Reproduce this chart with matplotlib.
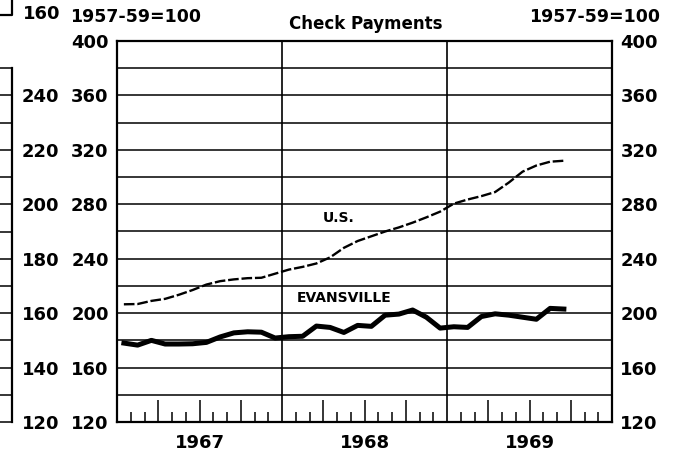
import matplotlib.pyplot as plt
from matplotlib.lines import Line2D

# monthly index, Jan 1967 .. Sep 1969 (1957-59=100)
us = [206.5, 206.7, 209, 210.5, 213.5, 217, 221, 223.5, 224.8, 225.7, 226, 229,
      232, 234, 236.5, 241, 248, 253, 256.5, 260, 263, 266.5, 270.4, 274.6,
      280.5, 283.5, 286, 289, 296, 304, 308.5, 311.3, 312]
evansville = [178, 176.5, 180, 177.3, 177.3, 177.5, 178.5, 182.5, 185.5, 186.3, 186, 181.7,
              182.7, 183, 190.5, 189.5, 185.8, 191, 190.3, 198.5, 199.3, 202.3, 197, 189,
              190, 189.5, 197.5, 199.5, 198.5, 197, 195.5, 203.5, 203]
years = ["1967", "1968", "1969"]
y_labels = [120, 160, 200, 240, 280, 320, 360, 400]
left_labels = [120, 140, 160, 180, 200, 220, 240]

W, H = 682, 455
fig = plt.figure(figsize=(W / 100, H / 100), dpi=100)
plt.rcParams['font.family'] = ['DejaVu Sans']

# main plot area in pixels
x0, x1, y_top, y_bot = 117, 612, 41, 422
ax = fig.add_axes([x0 / W, (H - y_bot) / H, (x1 - x0) / W, (y_bot - y_top) / H])

months = [i + 0.5 for i in range(len(us))]
ax.plot(months, us, color='black', lw=1.7, ls=(0, (4.5, 1.2)))
ax.plot(months, evansville, color='black', lw=3.6, solid_joinstyle='round')

ax.set_xlim(0, 36)
ax.set_ylim(120, 400)

# horizontal grid every 20, labels every 40
ax.set_yticks(y_labels)
ax.set_yticks([v for v in range(140, 400, 40)], minor=True)
ax.grid(True, axis='y', which='both', color='black', lw=1.1)
ax.tick_params(axis='y', which='both', length=0, labelleft=True, labelright=True,
               labelsize=13, pad=6)
for t in ax.get_yticklabels():
    t.set_fontweight('bold')

# year separators
for b in [12, 24]:
    ax.axvline(b, color='black', lw=1.2)

# month ticks: long at quarters, short at other months
quarters = [q for q in range(3, 36, 3) if q % 12 != 0]
short = [m for m in range(1, 36) if m % 3 != 0]
q_labels = []
for q in quarters:
    q_labels.append(years[q // 12] if q % 12 == 6 else "")
ax.set_xticks(quarters, labels=q_labels)
ax.set_xticks(short, minor=True)
ax.tick_params(axis='x', which='major', direction='in', length=16, width=1.1,
               labelsize=13, pad=9)
ax.tick_params(axis='x', which='minor', direction='in', length=7.5, width=1.1)
for t in ax.get_xticklabels():
    t.set_fontweight('bold')

for s in ax.spines.values():
    s.set_linewidth(1.6)

ax.text(16.1, 270, "U.S.", fontsize=10, fontweight='bold', ha='center', va='center')
ax.text(16.5, 210.8, "EVANSVILLE", fontsize=10, fontweight='bold', ha='center', va='center')

# partial neighbouring chart on the left
axl = fig.add_axes([-40 / W, (H - y_bot) / H, 52 / W, (y_bot - y_top) / H])
axl.set_ylim(120, 260)
axl.set_xlim(0, 1)
for k in ['left', 'top', 'bottom']:
    axl.spines[k].set_visible(False)
axl.spines['right'].set_bounds(120, 250)
axl.spines['right'].set_linewidth(1.6)
axl.patch.set_visible(False)
axl.set_xticks([])
axl.yaxis.tick_right()
axl.set_yticks(left_labels)
axl.set_yticks([v for v in range(130, 251, 20)], minor=True)
axl.tick_params(axis='y', which='both', direction='in', length=8.6, width=1.1,
                labelsize=13, pad=7)
for t in axl.get_yticklabels():
    t.set_fontweight('bold')

# top-left bracket of the chart above
fig.add_artist(Line2D([0, 12 / W, 12 / W], [(H - 15) / H, (H - 15) / H, 1],
                      transform=fig.transFigure, color='black', lw=1.6))

fig.text(42 / W, (H - 14) / H, "160", fontsize=13, fontweight='bold', ha='center', va='center')
fig.text(70 / W, (H - 17) / H, "1957-59=100", fontsize=12.5, fontweight='bold',
         ha='left', va='center')
fig.text(660 / W, (H - 17) / H, "1957-59=100", fontsize=12.5, fontweight='bold',
         ha='right', va='center')
fig.text(366 / W, (H - 24) / H, "Check Payments", fontsize=12, fontweight='bold',
         ha='center', va='center')

fig.savefig("out.png", dpi=100)
